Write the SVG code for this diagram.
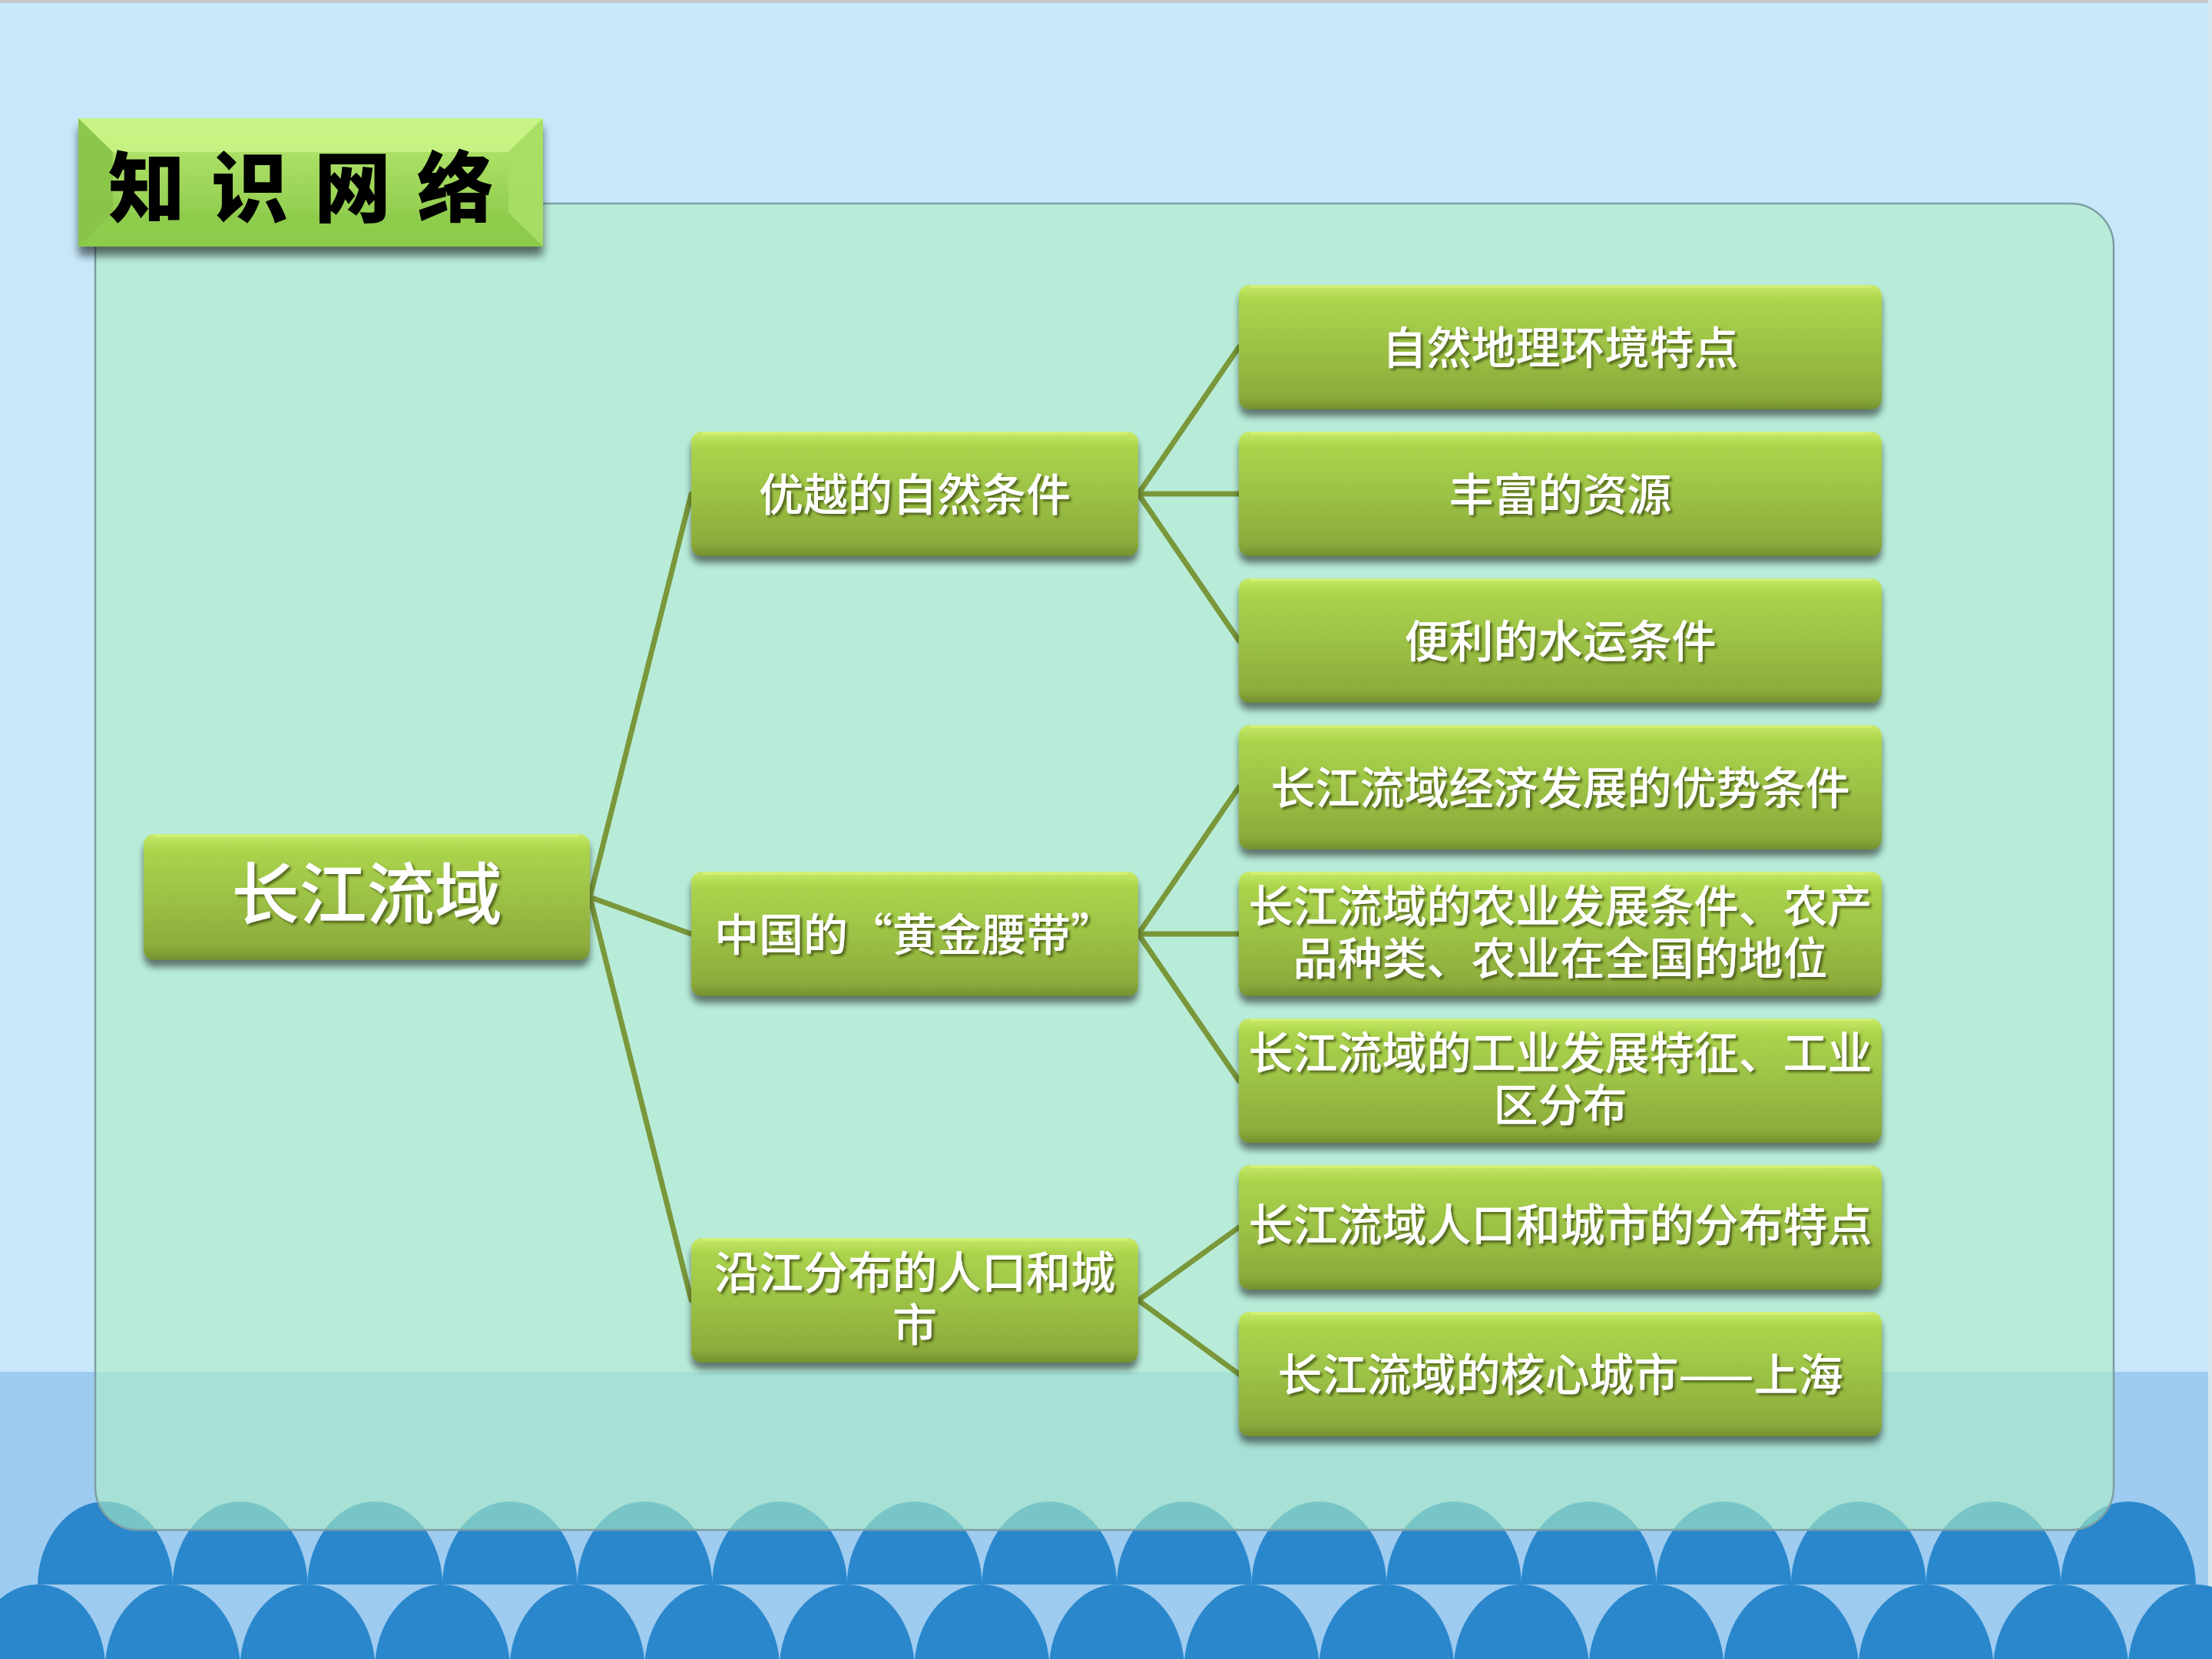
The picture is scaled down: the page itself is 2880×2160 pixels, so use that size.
<svg xmlns="http://www.w3.org/2000/svg" width="2880" height="2160" viewBox="0 0 2880 2160">
<defs>
<style>
.box{fill:url(#gBox);filter:url(#shBox);}
.hl{fill:none;stroke:#d6f27a;stroke-width:3;opacity:0.9;}
.t{font-family:"Noto Sans CJK SC","Noto Sans",sans-serif;font-weight:500;fill:#ffffff;font-size:58px;text-anchor:middle;filter:url(#shText);}
.t1{font-size:88px;}
.con{fill:none;stroke:#7a973a;stroke-width:7;stroke-linecap:round;}
.dome{fill:#2a87cc;}
</style>
<linearGradient id="gBox" x1="0" y1="0" x2="0" y2="1">
<stop offset="0" stop-color="#c9ea6a"/>
<stop offset="0.04" stop-color="#bfe35e"/>
<stop offset="0.12" stop-color="#abd44d"/>
<stop offset="0.5" stop-color="#9cc245"/>
<stop offset="0.9" stop-color="#8cab3c"/>
<stop offset="1" stop-color="#748f2e"/>
</linearGradient>
<linearGradient id="gTitle" x1="0" y1="0" x2="0" y2="1">
<stop offset="0" stop-color="#b8e872"/>
<stop offset="1" stop-color="#8ecb4c"/>
</linearGradient>
<linearGradient id="gFace" x1="0" y1="0" x2="0" y2="1">
<stop offset="0" stop-color="#ace066"/>
<stop offset="1" stop-color="#93cf50"/>
</linearGradient>
<filter id="shBox" x="-5%" y="-10%" width="112%" height="135%">
<feGaussianBlur in="SourceAlpha" stdDeviation="5"/>
<feOffset dx="0" dy="9" result="o"/>
<feComponentTransfer in="o" result="s"><feFuncA type="linear" slope="0.5"/></feComponentTransfer>
<feMerge><feMergeNode in="s"/><feMergeNode in="SourceGraphic"/></feMerge>
</filter>
<filter id="shTitle" x="-5%" y="-10%" width="112%" height="140%">
<feGaussianBlur in="SourceAlpha" stdDeviation="6"/>
<feOffset dx="0" dy="12" result="o"/>
<feComponentTransfer in="o" result="s"><feFuncA type="linear" slope="0.55"/></feComponentTransfer>
<feMerge><feMergeNode in="s"/><feMergeNode in="SourceGraphic"/></feMerge>
</filter>
<filter id="shText" x="-5%" y="-20%" width="110%" height="150%">
<feGaussianBlur in="SourceAlpha" stdDeviation="1.5"/>
<feOffset dx="3" dy="3" result="o"/>
<feFlood flood-color="#3e4c14" flood-opacity="0.75"/>
<feComposite in2="o" operator="in" result="s"/>
<feMerge><feMergeNode in="s"/><feMergeNode in="SourceGraphic"/></feMerge>
</filter>
<ellipse id="d" cx="0" cy="0" rx="88" ry="110"/>
<clipPath id="row1"><rect x="0" y="1900" width="2880" height="163"/></clipPath>
</defs>

<!-- background -->
<rect x="0" y="0" width="2880" height="1786" fill="#c8e8fa"/>
<rect x="0" y="1786" width="2880" height="374" fill="#9ecbf0"/>
<rect x="0" y="0" width="2880" height="4" fill="#c4c8cc"/>
<rect x="2875" y="0" width="5" height="2160" fill="#d6e6ee"/>

<!-- waves -->
<g id="waves" class="dome">
<g clip-path="url(#row1)">
<use href="#d" x="137" y="2065"/>
<use href="#d" x="312.6" y="2065"/>
<use href="#d" x="488.2" y="2065"/>
<use href="#d" x="663.8" y="2065"/>
<use href="#d" x="839.4" y="2065"/>
<use href="#d" x="1015" y="2065"/>
<use href="#d" x="1190.6" y="2065"/>
<use href="#d" x="1366.2" y="2065"/>
<use href="#d" x="1541.8" y="2065"/>
<use href="#d" x="1717.4" y="2065"/>
<use href="#d" x="1893" y="2065"/>
<use href="#d" x="2068.6" y="2065"/>
<use href="#d" x="2244.2" y="2065"/>
<use href="#d" x="2419.8" y="2065"/>
<use href="#d" x="2595.4" y="2065"/>
<use href="#d" x="2771" y="2065"/>
</g>
<use href="#d" x="49.2" y="2173"/>
<use href="#d" x="224.8" y="2173"/>
<use href="#d" x="400.4" y="2173"/>
<use href="#d" x="576" y="2173"/>
<use href="#d" x="751.6" y="2173"/>
<use href="#d" x="927.2" y="2173"/>
<use href="#d" x="1102.8" y="2173"/>
<use href="#d" x="1278.4" y="2173"/>
<use href="#d" x="1454" y="2173"/>
<use href="#d" x="1629.6" y="2173"/>
<use href="#d" x="1805.2" y="2173"/>
<use href="#d" x="1980.8" y="2173"/>
<use href="#d" x="2156.4" y="2173"/>
<use href="#d" x="2332" y="2173"/>
<use href="#d" x="2507.6" y="2173"/>
<use href="#d" x="2683.2" y="2173"/>
<use href="#d" x="2858.8" y="2173"/>
</g>

<!-- panel -->
<rect id="panel" x="124" y="265" width="2628" height="1727" rx="56" ry="56" fill="#adefc3" fill-opacity="0.6" stroke="#7d9ea4" stroke-width="2.5"/>

<!-- connectors -->
<g id="connectors">
<line class="con" x1="768" y1="1168" x2="900" y2="643"/>
<line class="con" x1="768" y1="1168" x2="900" y2="1216"/>
<line class="con" x1="768" y1="1168" x2="900" y2="1693"/>
<line class="con" x1="1482" y1="643" x2="1613" y2="452"/>
<line class="con" x1="1482" y1="643" x2="1613" y2="643"/>
<line class="con" x1="1482" y1="643" x2="1613" y2="834"/>
<line class="con" x1="1482" y1="1216" x2="1613" y2="1025"/>
<line class="con" x1="1482" y1="1216" x2="1613" y2="1216"/>
<line class="con" x1="1482" y1="1216" x2="1613" y2="1407"/>
<line class="con" x1="1482" y1="1693" x2="1613" y2="1598"/>
<line class="con" x1="1482" y1="1693" x2="1613" y2="1789"/>
</g>

<!-- root -->
<g id="n-root">
<rect class="box" x="187" y="1086" width="581" height="164" rx="14"/>
<line class="hl" x1="201" y1="1088" x2="754" y2="1088"/>
<text class="t t1" x="477.5" y="1196">长江流域</text>
</g>

<!-- level 2 -->
<g id="n-a">
<rect class="box" x="900" y="562" width="582" height="162" rx="14"/>
<line class="hl" x1="914" y1="564" x2="1468" y2="564"/>
<text class="t" x="1191" y="665">优越的自然条件</text>
</g>
<g id="n-b">
<rect class="box" x="900" y="1135" width="582" height="162" rx="14"/>
<line class="hl" x1="914" y1="1137" x2="1468" y2="1137"/>
<text class="t" x="1191" y="1238">中国的“黄金腰带”</text>
</g>
<g id="n-c">
<rect class="box" x="900" y="1612" width="582" height="162" rx="14"/>
<line class="hl" x1="914" y1="1614" x2="1468" y2="1614"/>
<text class="t" x="1191" y="1678">沿江分布的人口和城<tspan x="1191" y="1746">市</tspan></text>
</g>

<!-- level 3 -->
<g id="n-a1">
<rect class="box" x="1613" y="371" width="837" height="162" rx="14"/>
<line class="hl" x1="1627" y1="373" x2="2436" y2="373"/>
<text class="t" x="2031.5" y="474">自然地理环境特点</text>
</g>
<g id="n-a2">
<rect class="box" x="1613" y="562" width="837" height="162" rx="14"/>
<line class="hl" x1="1627" y1="564" x2="2436" y2="564"/>
<text class="t" x="2031.5" y="665">丰富的资源</text>
</g>
<g id="n-a3">
<rect class="box" x="1613" y="753" width="837" height="162" rx="14"/>
<line class="hl" x1="1627" y1="755" x2="2436" y2="755"/>
<text class="t" x="2031.5" y="856">便利的水运条件</text>
</g>
<g id="n-b1">
<rect class="box" x="1613" y="944" width="837" height="162" rx="14"/>
<line class="hl" x1="1627" y1="946" x2="2436" y2="946"/>
<text class="t" x="2031.5" y="1047">长江流域经济发展的优势条件</text>
</g>
<g id="n-b2">
<rect class="box" x="1613" y="1135" width="837" height="162" rx="14"/>
<line class="hl" x1="1627" y1="1137" x2="2436" y2="1137"/>
<text class="t" x="2031.5" y="1201">长江流域的农业发展条件、农产<tspan x="2031.5" y="1269">品种类、农业在全国的地位</tspan></text>
</g>
<g id="n-b3">
<rect class="box" x="1613" y="1326" width="837" height="162" rx="14"/>
<line class="hl" x1="1627" y1="1328" x2="2436" y2="1328"/>
<text class="t" x="2031.5" y="1392">长江流域的工业发展特征、工业<tspan x="2031.5" y="1460">区分布</tspan></text>
</g>
<g id="n-c1">
<rect class="box" x="1613" y="1517" width="837" height="162" rx="14"/>
<line class="hl" x1="1627" y1="1519" x2="2436" y2="1519"/>
<text class="t" x="2031.5" y="1616">长江流域人口和城市的分布特点</text>
</g>
<g id="n-c2">
<rect class="box" x="1613" y="1708" width="837" height="162" rx="14"/>
<line class="hl" x1="1627" y1="1710" x2="2436" y2="1710"/>
<text class="t" x="2031.5" y="1811">长江流域的核心城市——上海</text>
</g>

<!-- title -->
<g id="title">
<rect x="102" y="154" width="605" height="167" fill="url(#gTitle)" filter="url(#shTitle)"/>
<polygon points="102,154 707,154 662,198 147,198" fill="#cdf68a" opacity="0.8"/>
<polygon points="102,154 147,198 147,277 102,321" fill="#88c348" opacity="0.9"/>
<polygon points="707,154 707,321 662,277 662,198" fill="#a9de64" opacity="0.9"/>
<polygon points="102,321 147,277 662,277 707,321" fill="#8dcb4b" opacity="0.9"/>
<rect x="147" y="198" width="515" height="79" fill="url(#gFace)"/>
<text x="141" y="281" font-family="'Noto Sans CJK SC','Noto Sans',sans-serif" font-weight="900" font-size="100" letter-spacing="34" fill="#000000">知识网络</text>
</g>
</svg>
